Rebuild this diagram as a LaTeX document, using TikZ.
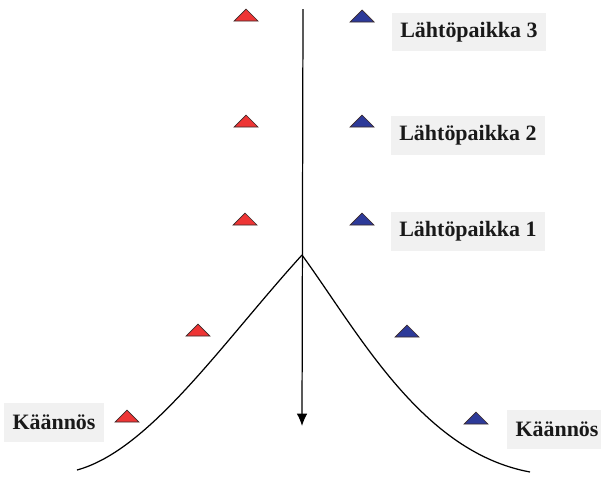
\documentclass[tikz,border=0pt]{standalone}
\usepackage{fontspec}
\setmainfont{Liberation Serif}
\usetikzlibrary{arrows.meta}
\definecolor{conered}{HTML}{EE3535}
\definecolor{coneblue}{HTML}{2D3A99}
\definecolor{labelgray}{HTML}{F1F1F1}
\definecolor{coneedge}{HTML}{3A2A2A}

\begin{document}
\begin{tikzpicture}[x=0.02cm,y=-0.02cm,font=\fontsize{12.5}{14}\selectfont\bfseries,
  placelabel/.style={fill=labelgray,inner xsep=5pt,minimum height=0.78cm,text=black!90}]
\useasboundingbox (0,0) rectangle (601,477);
% Cones: red on the left of the run, blue on the right (base y, centre x).
\foreach \x/\y/\tone in {246/21/conered,246/127/conered,245/225/conered,198/336/conered,127/422/conered,
                         362/22/coneblue,362/127/coneblue,362/225/coneblue,407/337/coneblue,476/424/coneblue}{
  \draw[draw=coneedge,line width=.4pt,fill=\tone] (\x-12,\y) -- (\x+12,\y) -- (\x,\y-12) -- cycle;
}
% Start line and turn curves.
\coordinate (top) at (303,9);
\coordinate (apex) at (302,255);
\coordinate (tip) at (302,426);
\coordinate (leftend) at (77,470);
\coordinate (rightend) at (530,472);
\draw[-{Latex[length=7pt,width=6pt]},line width=.7pt] (top) -- (tip);
\draw[line width=.7pt] (apex) .. controls (222,343) and (150,450) .. (leftend);
\draw[line width=.7pt] (apex) .. controls (360,335) and (422,452) .. (rightend);
% Labels.
\node[placelabel] (start3) at (469,32) {Lähtöpaikka 3};
\node[placelabel] (start2) at (468,135) {Lähtöpaikka 2};
\node[placelabel] (start1) at (468,231) {Lähtöpaikka 1};
\node[placelabel] (turnleft) at (54,422) {Käännös};
\node[placelabel] (turnright) at (557,429) {Käännös};
\end{tikzpicture}
\end{document}
